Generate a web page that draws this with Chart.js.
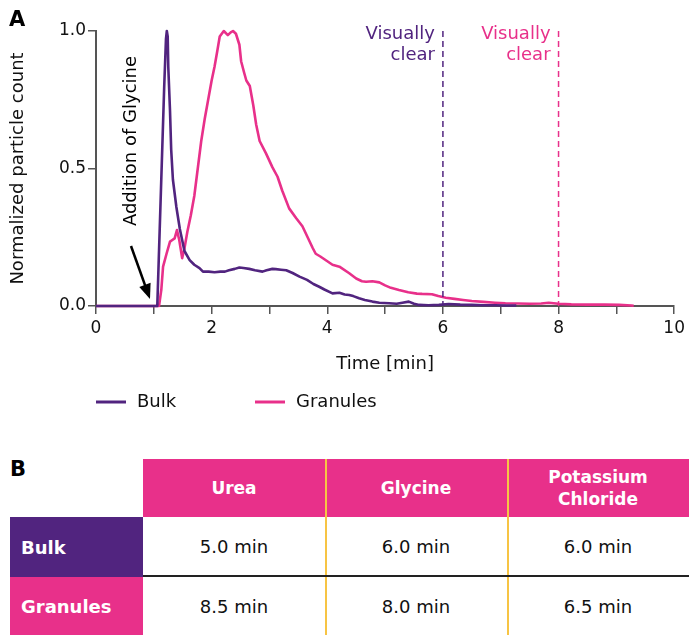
<!DOCTYPE html>
<html>
<head>
<meta charset="utf-8">
<script src="https://cdn.jsdelivr.net/npm/chart.js@4"></script>
<style>
  body { margin: 0; background: #fff; font-family: "DejaVu Sans", Verdana, sans-serif; }
  #wrap { position: relative; width: 689px; height: 635px; }
  #myChart { position: absolute; left: 0; top: 0; }
  #tbl { position: absolute; left: 10px; top: 459px; border-collapse: separate; border-spacing: 0; table-layout: fixed; width: 679px; }
  #tbl td { padding: 0; text-align: center; font-size: 18px; color: #111; }
  #tbl .hd td.c { background: #e8308a; color: #fff; font-weight: bold; font-size: 17px; line-height: 22px; }
  #tbl td.g { box-shadow: inset 2px 0 0 #f7c444; }
  #tbl td.lab { text-align: left; padding-left: 11px; color: #fff; font-weight: bold; font-size: 18px; }
  #tbl tr.bulk td.d { border-bottom: 2px solid #222; }
  #letterB { position: absolute; left: 10px; top: 457px; font: bold 21px "DejaVu Sans", sans-serif; color: #000; }
</style>
</head>
<body>
<div id="wrap">
  <canvas id="myChart" width="689" height="440"></canvas>
  <div id="letterB">B</div>
  <table id="tbl">
    <colgroup><col style="width:133px"><col style="width:182px"><col style="width:182px"><col style="width:182px"></colgroup>
    <tr class="hd" style="height:58px">
      <td></td><td class="c">Urea</td><td class="c g">Glycine</td><td class="c g">Potassium<br>Chloride</td>
    </tr>
    <tr class="bulk" style="height:60px">
      <td class="lab" style="background:#51247f">Bulk</td><td class="d">5.0 min</td><td class="d g">6.0 min</td><td class="d g">6.0 min</td>
    </tr>
    <tr style="height:58px">
      <td class="lab" style="background:#e8308a">Granules</td><td>8.5 min</td><td class="g">8.0 min</td><td class="g">6.5 min</td>
    </tr>
  </table>
</div>
<script>
var purple = "#51247f";
var pink = "#e8308a";

// Bulk curve (time in min, normalized count)
var bulkTime = [0, 1.06, 1.12, 1.18, 1.21, 1.225, 1.24, 1.25, 1.28, 1.30, 1.33, 1.39, 1.45, 1.53, 1.62, 1.70, 1.79, 1.85, 1.95, 2.05, 2.15, 2.23, 2.30, 2.40, 2.48, 2.55, 2.65, 2.75, 2.88, 2.95, 3.05, 3.11, 3.20, 3.29, 3.40, 3.52, 3.65, 3.76, 3.86, 3.95, 4.09, 4.21, 4.30, 4.38, 4.45, 4.55, 4.65, 4.78, 4.90, 5.07, 5.20, 5.30, 5.41, 5.50, 5.59, 5.75, 5.93, 6.10, 6.30, 6.50, 6.70, 6.90, 7.10, 7.27];
var bulkValue = [0, 0, 0.40, 0.80, 0.97, 1.0, 0.98, 0.87, 0.71, 0.57, 0.46, 0.36, 0.28, 0.20, 0.167, 0.15, 0.138, 0.125, 0.125, 0.123, 0.125, 0.125, 0.13, 0.135, 0.14, 0.138, 0.135, 0.13, 0.125, 0.13, 0.135, 0.134, 0.132, 0.13, 0.12, 0.107, 0.095, 0.08, 0.07, 0.06, 0.046, 0.048, 0.042, 0.04, 0.036, 0.028, 0.022, 0.016, 0.012, 0.01, 0.008, 0.012, 0.016, 0.008, 0.004, 0.003, 0.004, 0.007, 0.005, 0.004, 0.003, 0.003, 0.002, 0.002];

// Granules curve
var granTime = [0, 1.09, 1.13, 1.16, 1.22, 1.28, 1.32, 1.36, 1.40, 1.44, 1.49, 1.53, 1.58, 1.64, 1.70, 1.76, 1.82, 1.88, 1.94, 2.00, 2.05, 2.10, 2.14, 2.21, 2.28, 2.33, 2.37, 2.42, 2.48, 2.51, 2.56, 2.60, 2.66, 2.72, 2.77, 2.83, 2.94, 3.05, 3.14, 3.22, 3.34, 3.46, 3.57, 3.66, 3.75, 3.80, 3.88, 3.95, 4.09, 4.21, 4.38, 4.50, 4.60, 4.67, 4.78, 4.90, 5.00, 5.10, 5.24, 5.40, 5.55, 5.64, 5.81, 5.92, 6.05, 6.20, 6.35, 6.50, 6.70, 6.90, 7.08, 7.30, 7.50, 7.70, 7.83, 8.00, 8.22, 8.50, 8.80, 9.05, 9.26, 9.30];
var granValue = [0, 0, 0.06, 0.143, 0.19, 0.234, 0.24, 0.246, 0.276, 0.24, 0.174, 0.21, 0.27, 0.33, 0.40, 0.50, 0.60, 0.68, 0.75, 0.82, 0.87, 0.93, 0.98, 1.0, 0.985, 0.995, 1.0, 0.99, 0.95, 0.89, 0.85, 0.82, 0.80, 0.73, 0.66, 0.60, 0.555, 0.505, 0.47, 0.42, 0.355, 0.32, 0.29, 0.25, 0.21, 0.19, 0.18, 0.17, 0.15, 0.143, 0.119, 0.10, 0.09, 0.088, 0.09, 0.086, 0.075, 0.066, 0.058, 0.05, 0.045, 0.044, 0.043, 0.036, 0.030, 0.026, 0.022, 0.018, 0.015, 0.012, 0.010, 0.009, 0.008, 0.009, 0.012, 0.008, 0.006, 0.005, 0.005, 0.004, 0.002, 0.001];

// Visually clear markers
var clearTimes = [6, 8];
var clearColors = [purple, pink];
var clearLabels = [["Visually", "clear"], ["Visually", "clear"]];

var xTicks = [0, 2, 4, 6, 8, 10];
var yTicks = [0, 0.5, 1.0];

function toPoints(xs, ys) {
  var pts = [];
  for (var i = 0; i < xs.length; i++) pts.push({ x: xs[i], y: ys[i] });
  return pts;
}

var font = "DejaVu Sans";

// draws dashed markers, glycine note, arrow, panel letter and legend
var extras = {
  id: "extras",
  afterDatasetsDraw: function (chart) {
    var c = chart.ctx;
    var xs = chart.scales.x, area = chart.chartArea;
    c.save();
    // dashed lines + labels
    for (var i = 0; i < clearTimes.length; i++) {
      var px = xs.getPixelForValue(clearTimes[i]);
      c.strokeStyle = clearColors[i];
      c.lineWidth = 1.5;
      c.setLineDash([6, 4]);
      c.beginPath();
      c.moveTo(px, area.top);
      c.lineTo(px, area.bottom);
      c.stroke();
      c.setLineDash([]);
      c.fillStyle = clearColors[i];
      c.font = "18px " + font;
      c.textAlign = "right";
      c.textBaseline = "middle";
      c.fillText(clearLabels[i][0], px - 8, area.top + 3);
      c.fillText(clearLabels[i][1], px - 8, area.top + 24);
    }
    // Addition of Glycine
    c.save();
    c.translate(131, 141);
    c.rotate(-Math.PI / 2);
    c.fillStyle = "#000";
    c.font = "18px " + font;
    c.textAlign = "center";
    c.textBaseline = "middle";
    c.fillText("Addition of Glycine", 0, 0);
    c.restore();
    // arrow
    var x1 = 131, y1 = 246, x2 = 150, y2 = 299;
    var ang = Math.atan2(y2 - y1, x2 - x1);
    c.strokeStyle = "#000";
    c.fillStyle = "#000";
    c.lineWidth = 2.5;
    c.beginPath();
    c.moveTo(x1, y1);
    c.lineTo(x2 - 12 * Math.cos(ang), y2 - 12 * Math.sin(ang));
    c.stroke();
    c.beginPath();
    c.moveTo(x2, y2);
    c.lineTo(x2 - 15 * Math.cos(ang) + 6 * Math.sin(ang), y2 - 15 * Math.sin(ang) - 6 * Math.cos(ang));
    c.lineTo(x2 - 15 * Math.cos(ang) - 6 * Math.sin(ang), y2 - 15 * Math.sin(ang) + 6 * Math.cos(ang));
    c.closePath();
    c.fill();
    // panel letter
    c.font = "bold 21px " + font;
    c.textAlign = "left";
    c.textBaseline = "middle";
    c.fillText("A", 9, 21);
    // legend
    var lx = [96, 255];
    chart.data.datasets.forEach(function (ds, k) {
      c.strokeStyle = ds.borderColor;
      c.lineWidth = 3;
      c.beginPath();
      c.moveTo(lx[k], 402);
      c.lineTo(lx[k] + 30, 402);
      c.stroke();
      c.fillStyle = "#111";
      c.font = "18px " + font;
      c.textAlign = "left";
      c.fillText(ds.label, lx[k] + 41, 402);
    });
    c.restore();
  }
};

var ctx = document.getElementById("myChart").getContext("2d");
var myChart = new Chart(ctx, {
  type: "line",
  data: {
    datasets: [
      {
        label: "Bulk",
        data: toPoints(bulkTime, bulkValue),
        borderColor: purple,
        borderWidth: 2.6,
        borderJoinStyle: "round",
        pointRadius: 0,
        tension: 0,
        fill: false,
        clip: false,
      },
      {
        label: "Granules",
        data: toPoints(granTime, granValue),
        borderColor: pink,
        borderWidth: 2.6,
        borderJoinStyle: "round",
        pointRadius: 0,
        tension: 0,
        fill: false,
        clip: false,
      },
    ],
  },
  options: {
    responsive: false,
    animation: false,
    layout: { padding: { left: 0, top: 31, right: 13, bottom: 0 } },
    plugins: { legend: { display: false }, tooltip: { enabled: false } },
    scales: {
      x: {
        type: "linear",
        min: 0,
        max: 10,
        afterFit: function (s) { s.height = 134; },
        afterBuildTicks: function (s) {
          s.ticks = [];
          for (var v = 0; v <= 10; v++) s.ticks.push({ value: v });
        },
        ticks: {
          autoSkip: false,
          maxRotation: 0,
          padding: 4,
          color: "#111",
          font: { family: font, size: 17 },
          callback: function (v) { return xTicks.indexOf(v) >= 0 ? String(v) : ""; },
        },
        grid: { drawOnChartArea: false, drawTicks: true, tickLength: 8, color: "#555", lineWidth: 1.5 },
        border: { color: "#555", width: 2 },
        title: { display: true, text: "Time [min]", color: "#111", font: { family: font, size: 18 }, padding: { top: 0, bottom: 65 } },
      },
      y: {
        min: 0,
        max: 1,
        afterFit: function (s) { s.width = 96; },
        afterBuildTicks: function (s) {
          s.ticks = yTicks.map(function (v) { return { value: v }; });
        },
        ticks: {
          padding: 2,
          color: "#111",
          font: { family: font, size: 17 },
          callback: function (v) { return v.toFixed(1); },
        },
        grid: { drawOnChartArea: false, drawTicks: true, tickLength: 8, color: "#555", lineWidth: 1.5 },
        border: { color: "#555", width: 2 },
        title: { display: true, text: "Normalized particle count", color: "#111", font: { family: font, size: 18 }, padding: { top: 8, bottom: 0 } },
      },
    },
  },
  plugins: [extras],
});
</script>
</body>
</html>
